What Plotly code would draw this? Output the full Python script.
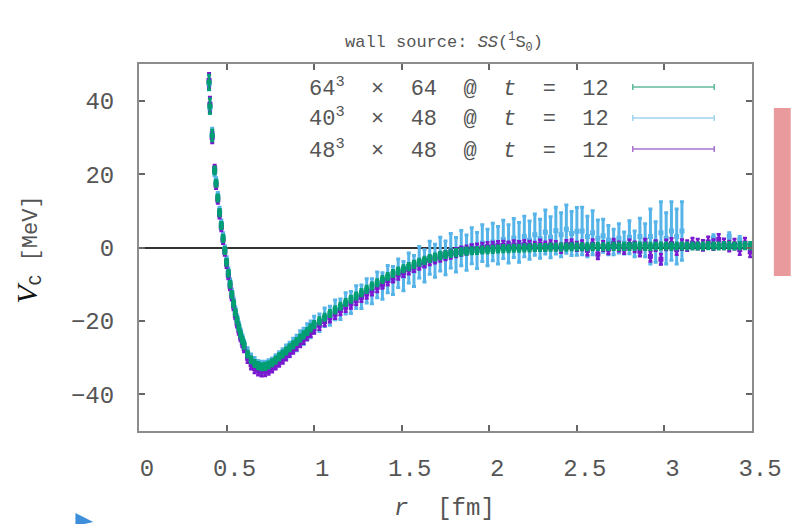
import plotly.graph_objects as go

# ---------------- data ----------------
R = [0.400, 0.405, 0.418, 0.432,
     0.44, 0.45, 0.46, 0.47, 0.48, 0.49, 0.50, 0.51, 0.52, 0.53, 0.54, 0.55, 0.56, 0.57, 0.58, 0.59, 0.60,
     0.62, 0.64, 0.66, 0.68, 0.70, 0.72, 0.74, 0.76, 0.78, 0.80, 0.82, 0.84, 0.86, 0.88, 0.90, 0.92, 0.94, 0.96, 0.98, 1.00,
     1.03, 1.06, 1.09, 1.12, 1.15, 1.18, 1.21, 1.24, 1.27, 1.30,
     1.33, 1.36, 1.39, 1.42, 1.45, 1.48, 1.51, 1.54, 1.57, 1.60,
     1.63, 1.66, 1.69, 1.72, 1.75, 1.78, 1.81, 1.84, 1.87, 1.90,
     1.93, 1.96, 1.99, 2.02, 2.05, 2.08, 2.11, 2.14, 2.17, 2.20,
     2.23, 2.26, 2.29, 2.32, 2.35, 2.38, 2.41, 2.44, 2.47, 2.50,
     2.53, 2.56, 2.59, 2.62, 2.65, 2.68, 2.71, 2.74, 2.77, 2.80,
     2.83, 2.86, 2.89, 2.92, 2.95, 2.98, 3.01, 3.04, 3.07, 3.10,
     3.13, 3.16, 3.19, 3.22, 3.25, 3.28, 3.31, 3.34, 3.37, 3.40,
     3.43, 3.46, 3.49]

V_64 = [45.0, 38.5, 30.5, 21.0,
        17.5, 13.5, 9.5, 6.0, 2.5, -0.8, -4.0, -7.0, -10.0, -12.8, -15.3, -17.7, -19.8, -21.8, -23.6, -25.2, -26.6,
        -29.0, -30.6, -31.6, -32.2, -32.5, -32.4, -32.0, -31.4, -30.7, -29.8, -29.0, -28.2, -27.3, -26.5, -25.6, -24.7, -23.8, -22.9, -21.9, -21.0,
        -20.0, -19.0, -18.0, -17.0, -16.0, -15.0, -14.1, -13.2, -12.3, -11.4,
        -10.5, -9.6, -8.7, -7.9, -7.1, -6.4, -5.8, -5.2, -4.6, -4.0,
        -3.5, -3.0, -2.6, -2.2, -1.9, -1.6, -1.4, -1.2, -1.0, -0.9,
        -0.8, -0.7, -0.6, -0.5, -0.4, -0.3, -0.3, -0.2, -0.2, -0.1,
        -0.1, 0.0, 0.0, 0.0, 0.1, 0.1, 0.1, 0.1, 0.2, 0.2,
        0.2, 0.2, 0.2, 0.3, 0.2, 0.3, 0.3, 0.3, 0.3, 0.3,
        0.3, 0.4, 0.3, 0.3, 0.4, 0.4, 0.4, 0.3, 0.4, 0.4,
        0.4, 0.4, 0.4, 0.4, 0.5, 0.4, 0.4, 0.5, 0.5, 0.4,
        0.5, 0.5, 0.5]
E_64 = [2.0, 2.0, 1.5, 1.0,
        0.9, 0.9, 0.9, 0.9, 0.9, 0.9, 0.9, 0.9, 0.9, 0.9, 0.9, 0.9, 0.9, 0.9, 0.9, 0.9, 0.9,
        0.9, 0.9, 0.9, 0.9, 0.9, 0.9, 0.9, 0.9, 0.9, 0.9, 0.9, 0.9, 0.9, 0.9, 0.9, 0.9, 0.9, 0.9, 0.9, 0.9,
        0.9, 0.9, 0.9, 0.9, 0.9, 0.9, 0.9, 0.9, 0.9, 0.9,
        0.9, 0.9, 0.9, 0.9, 0.9, 0.9, 0.9, 0.9, 0.9, 0.9,
        0.9, 0.9, 0.9, 0.9, 0.9, 0.9, 0.9, 0.9, 0.9, 0.9,
        0.9, 0.9, 0.9, 0.9, 0.9, 0.9, 0.9, 0.9, 0.9, 0.9,
        0.9, 0.9, 0.9, 0.9, 0.9, 0.9, 0.9, 0.9, 0.9, 0.9,
        0.9, 0.9, 0.9, 0.9, 0.9, 0.9, 0.9, 0.9, 0.9, 0.9,
        0.9, 0.9, 0.9, 0.9, 0.9, 0.9, 0.9, 0.9, 0.9, 0.9,
        0.9, 0.9, 0.9, 0.9, 0.9, 0.9, 0.9, 0.9, 0.9, 0.9,
        0.9, 0.9, 0.9]

V_40 = [44.5, 38.0, 31.0, 20.5,
        18.0, 14.0, 10.0, 6.5, 3.0, -0.5, -3.5, -6.5, -9.5, -12.3, -14.8, -17.2, -19.4, -21.4, -23.2, -24.8, -26.3,
        -28.7, -30.4, -31.5, -32.3, -32.6, -32.6, -32.3, -31.8, -31.0, -30.2, -29.5, -28.5, -27.8, -26.7, -26.0, -24.8, -24.2, -23.0, -22.3, -21.0,
        -20.5, -19.0, -18.6, -17.0, -16.8, -15.2, -15.0, -13.5, -13.4, -11.8,
        -11.9, -10.2, -10.5, -8.6, -9.0, -7.0, -7.8, -5.6, -6.4, -4.0,
        -5.0, -2.8, -3.6, -1.8, -2.8, -0.9, -2.0, -0.2, -1.4, 0.5,
        -0.8, 1.2, 0.0, 1.5, 0.6, 2.2, 1.0, 2.6, 1.4, 3.0,
        2.0, 3.5, 2.4, 4.2, 2.8, 4.6, 3.5, 5.0, 3.8, 4.4,
        4.5, 3.0, 4.0, 2.5, 3.2, 2.0, 1.5, 2.5, 1.2, 2.8,
        1.0, 3.0, 2.0, 3.0, 1.5, 4.0, 2.5, 4.5, 3.0, 4.5,
        None, None, None, None, None, 2.5, None, None, 3.0, None,
        2.0, None, None]
E_40 = [1.5, 1.5, 1.5, 1.0,
        1.0, 1.0, 1.0, 1.0, 1.0, 1.0, 1.0, 1.0, 1.0, 1.0, 1.0, 1.0, 1.0, 1.0, 1.0, 1.0, 1.0,
        1.4, 1.4, 1.5, 1.5, 1.6, 1.6, 1.7, 1.7, 1.8, 1.8, 1.9, 1.9, 2.0, 2.0, 2.1, 2.1, 2.2, 2.2, 2.3, 2.3,
        2.4, 2.5, 2.6, 2.7, 2.8, 2.9, 3.0, 3.1, 3.2, 3.3,
        3.4, 3.5, 3.6, 3.7, 3.8, 3.9, 4.0, 4.1, 4.2, 4.3,
        4.4, 4.5, 4.5, 4.6, 4.6, 4.7, 4.7, 4.8, 4.8, 4.9,
        4.9, 5.0, 5.0, 5.1, 5.1, 5.2, 5.2, 5.3, 5.4, 5.5,
        5.2, 5.6, 5.3, 6.0, 5.6, 6.4, 6.0, 6.6, 6.0, 6.5,
        6.5, 5.5, 6.0, 5.0, 4.5, 4.0, 3.5, 4.0, 3.0, 4.5,
        3.5, 5.0, 4.5, 7.5, 5.5, 8.5, 7.0, 8.0, 7.5, 8.0,
        1.0, 1.0, 1.0, 1.0, 1.0, 1.0, 1.0, 1.0, 1.0, 1.0,
        1.0, 1.0, 1.0]

V_48 = [45.5, 39.0, 30.0, 21.5,
        17.0, 13.0, 9.0, 5.5, 2.0, -1.2, -4.5, -7.6, -10.6, -13.4, -16.0, -18.5, -20.7, -22.7, -24.5, -26.1, -27.5,
        -30.2, -32.0, -33.0, -33.6, -33.9, -33.8, -33.4, -32.8, -32.0, -31.2, -30.4, -29.5, -28.6, -27.7, -26.8, -25.9, -25.0, -24.0, -23.1, -22.2,
        -21.2, -20.2, -19.2, -18.2, -17.2, -16.3, -15.4, -14.5, -13.6, -12.7,
        -11.8, -10.9, -10.0, -9.1, -8.3, -7.5, -6.8, -6.1, -5.4, -4.8,
        -4.2, -3.6, -3.1, -2.6, -2.2, -1.8, -1.4, -1.0, -0.7, -0.4,
        -0.2, 0.0, 0.2, 0.3, 0.5, 0.6, 0.4, 0.7, 0.5, 0.8,
        0.6, 0.3, 0.9, 0.4, 0.7, 0.5, -0.2, 0.8, 1.0, 0.3,
        0.6, -0.8, 0.9, -1.8, 0.4, -0.5, 1.0, 0.3, -0.4, 0.8,
        0.2, -1.0, 0.9, -2.4, 0.5, -3.2, 0.7, 1.1, -0.6, 0.8,
        0.5, 1.2, 0.9, 0.6, 1.5, 0.8, 2.2, 1.0, 0.4, 0.9,
        -0.6, 1.2, -1.2]
E_48 = [2.0, 2.0, 1.5, 1.0,
        1.0, 1.0, 1.0, 1.0, 1.0, 1.0, 1.0, 1.0, 1.0, 1.0, 1.0, 1.0, 1.0, 1.0, 1.0, 1.0, 1.0,
        1.2, 1.2, 1.2, 1.2, 1.2, 1.2, 1.2, 1.2, 1.2, 1.2, 1.2, 1.2, 1.2, 1.2, 1.2, 1.2, 1.2, 1.2, 1.2, 1.2,
        1.2, 1.2, 1.2, 1.2, 1.2, 1.2, 1.2, 1.2, 1.2, 1.2,
        1.2, 1.2, 1.2, 1.2, 1.2, 1.2, 1.2, 1.2, 1.2, 1.2,
        1.2, 1.2, 1.2, 1.2, 1.2, 1.2, 1.2, 1.2, 1.2, 1.2,
        1.2, 1.2, 1.2, 1.2, 1.2, 1.2, 1.2, 1.2, 1.2, 1.2,
        1.2, 1.2, 1.2, 1.2, 1.2, 1.2, 1.2, 1.2, 1.2, 1.2,
        1.3, 1.3, 1.3, 1.3, 1.3, 1.3, 1.3, 1.3, 1.3, 1.3,
        1.4, 1.4, 1.4, 1.4, 1.4, 1.4, 1.4, 1.4, 1.4, 1.4,
        1.4, 1.4, 1.4, 1.4, 1.4, 1.4, 1.4, 1.4, 1.4, 1.4,
        1.4, 1.4, 1.4]

LABELS = ["64<sup>3</sup>  ×  64  @  <i>t</i>  =  12",
          "40<sup>3</sup>  ×  48  @  <i>t</i>  =  12",
          "48<sup>3</sup>  ×  48  @  <i>t</i>  =  12"]
COLORS = ["#009e73", "#56b4e9", "#7a18d0"]
KEY_COLORS = ["#5fb89c", "#9fd3ee", "#a873d0"]

X_TICKS = [0, 0.5, 1, 1.5, 2, 2.5, 3, 3.5]
Y_TICKS = [-40, -20, 0, 20, 40]

# ---------------- figure ----------------
MONO = "Liberation Mono, DejaVu Sans Mono, monospace"
TXT = "#555555"

fig = go.Figure()


def add_series(v, e, color, msize, ethick, ewidth):
    fig.add_trace(go.Scatter(
        x=R, y=v, mode="markers",
        marker=dict(color=color, size=msize, symbol="square", line=dict(width=0)),
        error_y=dict(type="data", array=e, color=color, thickness=ethick, width=ewidth),
        showlegend=False, hoverinfo="skip"))


# draw order: 40^3 first, then 48^3, then 64^3 on top
add_series(V_40, E_40, COLORS[1], 5, 3, 2)
add_series(V_48, E_48, COLORS[2], 5, 2.5, 2)
add_series(V_64, E_64, COLORS[0], 5, 2.5, 2)

W, H = 794, 524
L, Rm, T, B = 139, 38, 64, 93
pw, ph = W - L - Rm, H - T - B


def px(xp):
    return (xp - L) / pw


def py(yp):
    return (H - B - yp) / ph


annotations = []
shapes = []

# manual key
rows_y = [87, 118, 149]
for lab, col, yy in zip(LABELS, KEY_COLORS, rows_y):
    annotations.append(dict(xref="paper", yref="paper", x=px(614), y=py(yy),
                            xanchor="right", yanchor="middle", showarrow=False,
                            text=lab, font=dict(family=MONO, size=22, color=TXT)))
    shapes.append(dict(type="line", xref="paper", yref="paper",
                       x0=px(636), x1=px(718), y0=py(yy), y1=py(yy),
                       line=dict(color=col, width=1.5)))
    for xe in (636, 718):
        shapes.append(dict(type="line", xref="paper", yref="paper",
                           x0=px(xe), x1=px(xe), y0=py(yy - 3), y1=py(yy + 3),
                           line=dict(color=col, width=1.5)))

# title
annotations.append(dict(xref="paper", yref="paper", x=px(446), y=py(42),
                        xanchor="center", yanchor="middle", showarrow=False,
                        text="wall source: <i>SS</i>(<sup>1</sup>S<sub>0</sub>)",
                        font=dict(family=MONO, size=17, color=TXT)))
# x label
annotations.append(dict(xref="paper", yref="paper", x=px(446), y=py(508),
                        xanchor="center", yanchor="middle", showarrow=False,
                        text="<i>r</i>  [fm]",
                        font=dict(family=MONO, size=24, color=TXT)))
# y label
annotations.append(dict(xref="paper", yref="paper", x=px(28), y=py(250),
                        xanchor="center", yanchor="middle", showarrow=False,
                        textangle=-90,
                        text="<span style='font-family:Liberation Serif;font-size:30px;color:#111'><i>V</i></span>"
                             "<sub><span style='font-size:18px;color:#333'>C</span></sub> [MeV]",
                        font=dict(family=MONO, size=22, color=TXT)))

# decorative slide fragments
shapes.append(dict(type="rect", xref="paper", yref="paper",
                   x0=px(778), x1=px(795), y0=py(276), y1=py(108),
                   fillcolor="#e89a9c", line=dict(width=0)))
shapes.append(dict(type="path", xref="paper", yref="paper",
                   path=f"M {px(75)} {py(513)} L {px(93)} {py(522)} L {px(75)} {py(526)} Z",
                   fillcolor="#3d8fdb", line=dict(width=0)))

axis_common = dict(showgrid=False, ticks="inside", ticklen=6, tickwidth=1.5,
                   tickcolor="#666", showline=True, linecolor="#8c8c8c", linewidth=2,
                   mirror="ticks", tickfont=dict(family=MONO, size=24, color=TXT))

fig.update_layout(
    width=W, height=H,
    margin=dict(l=L, r=Rm, t=T, b=B, pad=0),
    paper_bgcolor="white", plot_bgcolor="white",
    xaxis=dict(range=[0, 3.5], tickvals=X_TICKS, zeroline=False,
               ticklabelstandoff=14, ticklabelshift=8, **axis_common),
    yaxis=dict(range=[-50, 50], tickvals=Y_TICKS, zeroline=True,
               zerolinecolor="#333333", zerolinewidth=2,
               ticklabelstandoff=18, **axis_common),
    annotations=annotations, shapes=shapes,
)

fig.write_html("out.html")
